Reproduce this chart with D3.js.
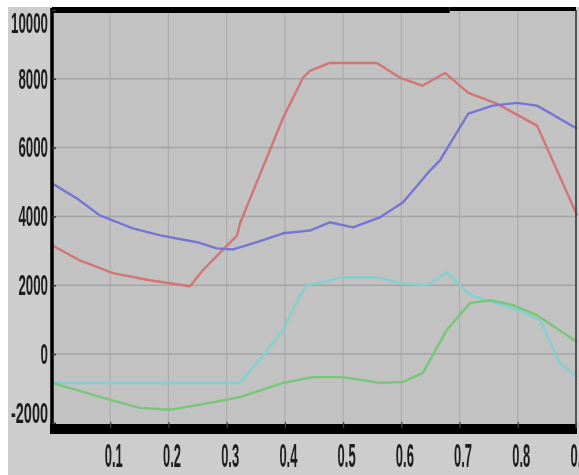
<!DOCTYPE html>
<html>
<head>
<meta charset="utf-8">
<script src="https://cdn.jsdelivr.net/npm/d3@7"></script>
<style>
  html, body { margin: 0; padding: 0; background: #ffffff; }
  #wrapper svg { display: block; }
  .tick-label { font-family: "Liberation Sans", Arial, sans-serif; font-weight: bold; fill: #1e1e1e; }
</style>
</head>
<body>
<div id="wrapper"></div>
<script>
// series (x = 0 .. 0.9)
const redX = [0, 0.048, 0.105, 0.168, 0.237, 0.259, 0.318, 0.323, 0.362, 0.397, 0.431, 0.443, 0.477, 0.558, 0.598, 0.636, 0.675, 0.715, 0.764, 0.833, 0.902];
const redY = [3160, 2720, 2350, 2145, 1970, 2435, 3450, 3800, 5420, 6870, 8030, 8230, 8460, 8460, 8030, 7800, 8170, 7590, 7280, 6640, 4030];

const blueX = [0, 0.043, 0.082, 0.139, 0.186, 0.249, 0.283, 0.311, 0.352, 0.397, 0.443, 0.477, 0.517, 0.563, 0.603, 0.649, 0.666, 0.715, 0.757, 0.799, 0.833, 0.902];
const blueY = [4960, 4520, 4030, 3650, 3450, 3250, 3070, 3040, 3250, 3510, 3590, 3830, 3680, 3970, 4410, 5330, 5620, 6990, 7220, 7300, 7220, 6550];

const cyanX = [0, 0.323, 0.366, 0.397, 0.426, 0.438, 0.5, 0.558, 0.598, 0.644, 0.678, 0.718, 0.757, 0.799, 0.838, 0.872, 0.903];
const cyanY = [-840, -840, 30, 700, 1700, 2000, 2230, 2230, 2060, 2000, 2380, 1710, 1510, 1280, 990, -260, -670];

const greenX = [0, 0.1, 0.151, 0.203, 0.271, 0.323, 0.397, 0.448, 0.5, 0.563, 0.603, 0.637, 0.678, 0.718, 0.752, 0.792, 0.833, 0.902];
const greenY = [-840, -1330, -1565, -1620, -1420, -1250, -840, -670, -670, -840, -810, -550, 700, 1480, 1565, 1420, 1130, 350];

const xTicks = [0.1, 0.2, 0.3, 0.4, 0.5, 0.6, 0.7, 0.8, 0.9];
const yTicks = [-2000, 0, 2000, 4000, 6000, 8000, 10000];

const series = [
  { name: "red", xs: redX, ys: redY, color: "#d47474" },
  { name: "blue", xs: blueX, ys: blueY, color: "#7676d2" },
  { name: "cyan", xs: cyanX, ys: cyanY, color: "#84d0d0" },
  { name: "green", xs: greenX, ys: greenY, color: "#78c678" }
];

const xAccessor = d => d[0];
const yAccessor = d => d[1];

const dimensions = {
  width: 579,
  height: 475,
  margin: { top: 10, right: 3, left: 52, bottom: 47 }
};
dimensions.boundedWidth = dimensions.width - dimensions.margin.left - dimensions.margin.right;
dimensions.boundedHeight = dimensions.height - dimensions.margin.top - dimensions.margin.bottom;

const wrapper = d3.select("#wrapper")
  .append("svg")
  .attr("width", dimensions.width)
  .attr("height", dimensions.height);

// soft blur to look like the photographed original
const defs = wrapper.append("defs");
defs.append("filter").attr("id", "soft")
  .append("feGaussianBlur").attr("stdDeviation", 0.6);

// outer grey paper, white strip on top / left
wrapper.append("rect")
  .attr("x", 8).attr("y", 7)
  .attr("width", dimensions.width).attr("height", dimensions.height)
  .attr("fill", "#cdcdcd");

const bounds = wrapper.append("g")
  .attr("transform", `translate(${dimensions.margin.left}, ${dimensions.margin.top})`)
  .attr("filter", "url(#soft)");

const xScale = d3.scaleLinear()
  .domain([0, 0.9])
  .range([0, dimensions.boundedWidth]);

const yScale = d3.scaleLinear()
  .domain([-2150, 10000])
  .range([dimensions.boundedHeight, 0]);

bounds.append("rect")
  .attr("width", dimensions.boundedWidth)
  .attr("height", dimensions.boundedHeight)
  .attr("fill", "#c2c2c2");

// grid
bounds.append("g")
  .selectAll("line")
  .data(xTicks)
  .join("line")
  .attr("x1", d => xScale(d)).attr("x2", d => xScale(d))
  .attr("y1", 0).attr("y2", dimensions.boundedHeight)
  .attr("stroke", "#acacac")
  .attr("stroke-width", 1.2);

bounds.append("g")
  .selectAll("line")
  .data(yTicks.filter(d => d > -2000 && d < 10000))
  .join("line")
  .attr("x1", 0).attr("x2", dimensions.boundedWidth)
  .attr("y1", d => yScale(d)).attr("y2", d => yScale(d))
  .attr("stroke", "#a4a4a4")
  .attr("stroke-width", 1.5);

// lines
const lineGenerator = d3.line()
  .x(d => xScale(xAccessor(d)))
  .y(d => yScale(yAccessor(d)));

bounds.append("g")
  .selectAll("path")
  .data(series)
  .join("path")
  .attr("d", s => lineGenerator(d3.zip(s.xs, s.ys)))
  .attr("fill", "none")
  .attr("stroke", s => s.color)
  .attr("stroke-width", 2.4)
  .attr("stroke-linejoin", "round");

// frame: thick bottom, medium left, thick top (thinner on the right part), thin right
bounds.append("line")
  .attr("x1", -2).attr("x2", dimensions.boundedWidth + 1)
  .attr("y1", dimensions.boundedHeight + 1).attr("y2", dimensions.boundedHeight + 1)
  .attr("stroke", "#000").attr("stroke-width", 10);
bounds.append("line")
  .attr("x1", 0).attr("x2", 0)
  .attr("y1", -2).attr("y2", dimensions.boundedHeight)
  .attr("stroke", "#000").attr("stroke-width", 3.5);
bounds.append("line")
  .attr("x1", 0).attr("x2", xScale(0.683))
  .attr("y1", 0).attr("y2", 0)
  .attr("stroke", "#000").attr("stroke-width", 6);
bounds.append("line")
  .attr("x1", xScale(0.683)).attr("x2", dimensions.boundedWidth)
  .attr("y1", -1).attr("y2", -1)
  .attr("stroke", "#000").attr("stroke-width", 4);
bounds.append("line")
  .attr("x1", dimensions.boundedWidth).attr("x2", dimensions.boundedWidth)
  .attr("y1", 0).attr("y2", dimensions.boundedHeight)
  .attr("stroke", "#333").attr("stroke-width", 1.5);

// axes
const yAxisGenerator = d3.axisLeft()
  .scale(yScale)
  .tickValues(yTicks)
  .tickSize(-4)
  .tickPadding(4)
  .tickFormat(d => String(d));

const yAxis = bounds.append("g")
  .call(yAxisGenerator);
yAxis.select(".domain").remove();
yAxis.selectAll(".tick line").attr("stroke", "#333").attr("stroke-width", 1.5);
yAxis.selectAll("text")
  .attr("class", "tick-label")
  .style("font-size", "29px")
  .attr("textLength", d => String(d).length * 7.4)
  .attr("lengthAdjust", "spacingAndGlyphs")
  // keep the end labels inside the frame, as in the photo
  .attr("y", d => d === 10000 ? 13 : d === -2000 ? -10 : 0);

const xAxisGenerator = d3.axisBottom()
  .scale(xScale)
  .tickValues(xTicks)
  .tickSize(-6)
  .tickPadding(16)
  .tickFormat(d3.format(".1f"));

const xAxis = bounds.append("g")
  .attr("transform", `translate(0, ${dimensions.boundedHeight})`)
  .call(xAxisGenerator);
xAxis.select(".domain").remove();
xAxis.selectAll(".tick line").attr("stroke", "#444").attr("stroke-width", 1.2);
xAxis.selectAll("text")
  .attr("class", "tick-label")
  .attr("dx", 3)
  .style("font-size", "33px")
  .attr("textLength", 18)
  .attr("lengthAdjust", "spacingAndGlyphs");
</script>
</body>
</html>
